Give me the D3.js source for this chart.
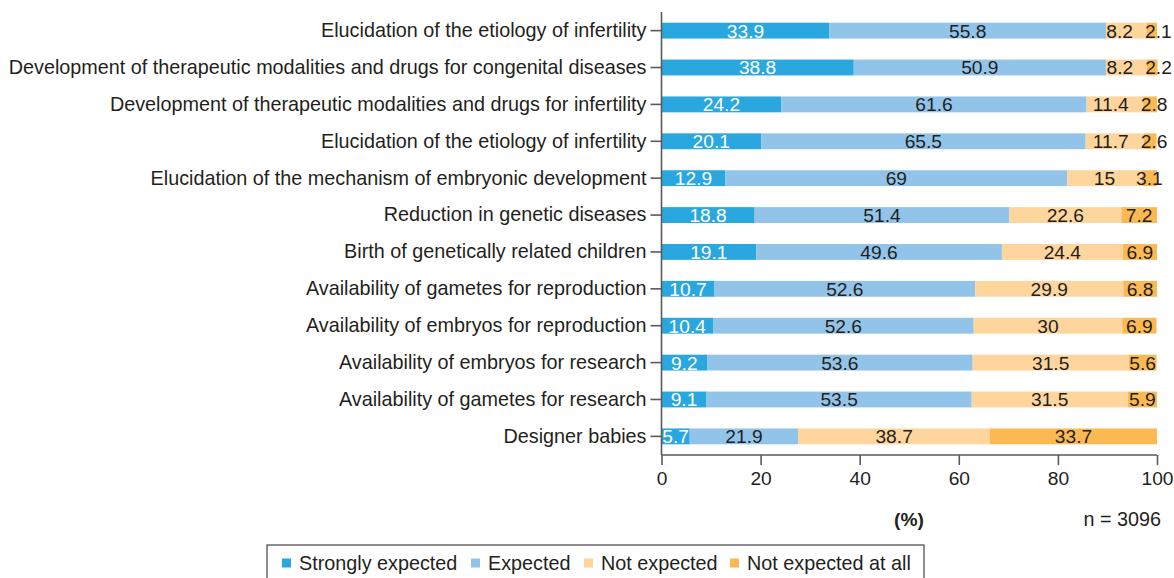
<!DOCTYPE html>
<html>
<head>
<meta charset="utf-8">
<script src="https://cdn.jsdelivr.net/npm/d3@7"></script>
<style>
  body { margin: 0; background: #fff; }
  svg { font-family: "Liberation Sans", Arial, Helvetica, sans-serif; }
</style>
</head>
<body>
<div id="chart"></div>
<script>
"use strict";

// data
var categories = [
    "Elucidation of the etiology of infertility",
    "Development of therapeutic modalities and drugs for congenital diseases",
    "Development of therapeutic modalities and drugs for infertility",
    "Elucidation of the etiology of infertility",
    "Elucidation of the mechanism of embryonic development",
    "Reduction in genetic diseases",
    "Birth of genetically related children",
    "Availability of gametes for reproduction",
    "Availability of embryos for reproduction",
    "Availability of embryos for research",
    "Availability of gametes for research",
    "Designer babies"
];
var seriesNames = ["Strongly expected", "Expected", "Not expected", "Not expected at all"];
var stronglyExpected = [33.9, 38.8, 24.2, 20.1, 12.9, 18.8, 19.1, 10.7, 10.4, 9.2, 9.1, 5.7];
var expected         = [55.8, 50.9, 61.6, 65.5, 69, 51.4, 49.6, 52.6, 52.6, 53.6, 53.5, 21.9];
var notExpected      = [8.2, 8.2, 11.4, 11.7, 15, 22.6, 24.4, 29.9, 30, 31.5, 31.5, 38.7];
var notExpectedAtAll = [2.1, 2.2, 2.8, 2.6, 3.1, 7.2, 6.9, 6.8, 6.9, 5.6, 5.9, 33.7];
var xTicks = [0, 20, 40, 60, 80, 100];
var sampleNote = "n = 3096";

var colors = ["#29a7de", "#92c4e9", "#fed59d", "#fbb954"];
var labelColors = ["#ffffff", "#231f20", "#231f20", "#231f20"];

// build rows
var rows = categories.map((c, i) => ({
    idx: i,
    label: c,
    values: [stronglyExpected[i], expected[i], notExpected[i], notExpectedAtAll[i]]
}));

var width = 1174, height = 578;
var labelSize = 19.8;
var valueSize = 19.2;
var textColor = "#231f20";
var axisColor = "#5a5a5a";

var svg = d3.select("#chart")
    .append("svg")
    .attr("width", width)
    .attr("height", height);

// scales
var x = d3.scaleLinear()
    .domain([0, 100])
    .range([661.5, 1157]);

var y = d3.scaleBand()
    .domain(rows.map(d => d.idx))
    .range([12, 455])
    .paddingInner(0.57)
    .paddingOuter(0.29);

// stacked segments
var segs = [];
rows.forEach(r => {
    var acc = 0;
    r.values.forEach((v, k) => {
        segs.push({ idx: r.idx, k: k, v: v, x0: acc, x1: acc + v });
        acc += v;
    });
});

svg.append("g")
    .selectAll("rect")
    .data(segs)
    .join("rect")
    .attr("x", d => x(d.x0))
    .attr("y", d => y(d.idx))
    .attr("width", d => x(d.x1) - x(d.x0))
    .attr("height", y.bandwidth())
    .attr("fill", d => colors[d.k]);

var valueLabels = svg.append("g")
    .selectAll("text")
    .data(segs)
    .join("text")
    .attr("x", d => x((d.x0 + d.x1) / 2))
    .attr("y", d => y(d.idx) + y.bandwidth() / 2)
    .attr("dy", "0.36em")
    .attr("text-anchor", "middle")
    .attr("font-size", valueSize)
    .attr("fill", d => labelColors[d.k])
    .text(d => d.v);

// push crowded neighbouring labels apart a little
var minGap = 12;
valueLabels.each(function (d) {
    d.cx = x((d.x0 + d.x1) / 2);
    d.w = this.getComputedTextLength();
});
d3.group(segs, d => d.idx).forEach(list => {
    for (var k = 0; k < list.length - 1; k++) {
        var a = list[k], b = list[k + 1];
        var gap = (b.cx - b.w / 2) - (a.cx + a.w / 2);
        if (gap < minGap) {
            var shift = (minGap - gap) / 2;
            a.cx -= shift;
            b.cx += shift;
        }
    }
});
valueLabels.attr("x", d => d.cx);

// axes
var yAxis = svg.append("g")
    .attr("transform", `translate(${x(0)},0)`)
    .call(d3.axisLeft(y).tickSize(11).tickPadding(4).tickFormat(i => categories[i]));

var xAxis = svg.append("g")
    .attr("transform", `translate(0,${y.range()[1]})`)
    .call(d3.axisBottom(x).tickValues(xTicks).tickSize(10).tickPadding(6));

[yAxis, xAxis].forEach(g => {
    g.selectAll("path, line").attr("stroke", axisColor).attr("stroke-width", 1.6);
    g.selectAll("text")
        .attr("font-size", labelSize)
        .attr("fill", textColor)
        .attr("font-family", "\"Liberation Sans\", Arial, sans-serif");
});
xAxis.selectAll("text").attr("font-size", valueSize);
// plain domain lines without end caps
yAxis.select(".domain").attr("d", `M0,${y.range()[0]}V${y.range()[1]}`);
xAxis.select(".domain").attr("d", `M${x(0)},0H${x(100)}`);

// axis title and sample size
svg.append("text")
    .attr("x", 909)
    .attr("y", 519)
    .attr("dy", "0.36em")
    .attr("text-anchor", "middle")
    .attr("font-size", valueSize)
    .attr("font-weight", "bold")
    .attr("fill", textColor)
    .text("(%)");

svg.append("text")
    .attr("x", 1161)
    .attr("y", 519)
    .attr("dy", "0.36em")
    .attr("text-anchor", "end")
    .attr("font-size", labelSize)
    .attr("fill", textColor)
    .text(sampleNote);

// legend
var legend = svg.append("g");
legend.append("rect")
    .attr("x", 267)
    .attr("y", 545)
    .attr("width", 657)
    .attr("height", 40)
    .attr("fill", "none")
    .attr("stroke", "#444")
    .attr("stroke-width", 1.2);

var legendX = [282, 471, 584, 730];
var legendItems = legend.selectAll("g.item")
    .data(seriesNames)
    .join("g")
    .attr("class", "item")
    .attr("transform", (d, i) => `translate(${legendX[i]},563)`);

legendItems.append("rect")
    .attr("x", 0)
    .attr("y", -4.5)
    .attr("width", 9)
    .attr("height", 9)
    .attr("fill", (d, i) => colors[i]);

legendItems.append("text")
    .attr("x", 17)
    .attr("dy", "0.36em")
    .attr("font-size", labelSize)
    .attr("fill", textColor)
    .text(d => d);
</script>
</body>
</html>
